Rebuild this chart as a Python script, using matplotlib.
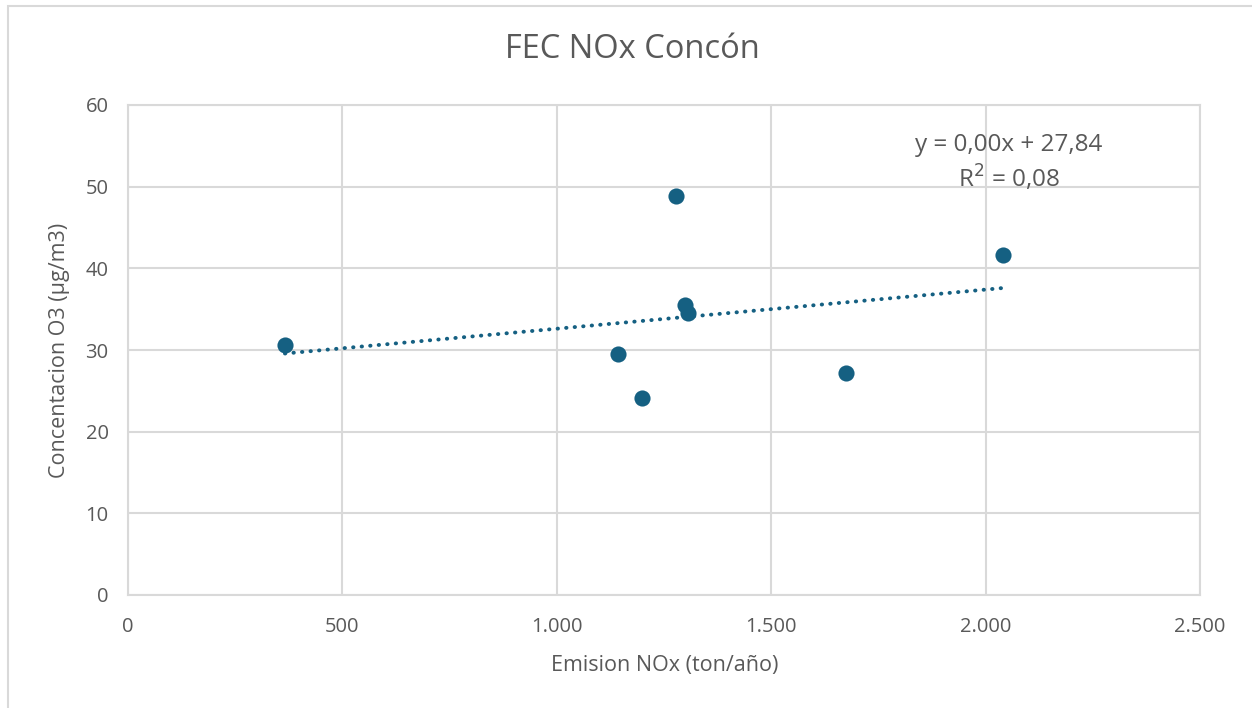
import numpy as np
import matplotlib
matplotlib.use("Agg")
import matplotlib.pyplot as plt
from matplotlib.patches import Rectangle
from matplotlib.ticker import FuncFormatter

plt.rcParams['font.family'] = ['Open Sans', 'DejaVu Sans']

# datos
emision_nox = [366, 1143, 1199, 1278, 1299, 1306, 1674, 2041]
conc_o3 = [30.6, 29.5, 24.1, 48.9, 35.5, 34.5, 27.2, 41.6]
x_ticks = [0, 500, 1000, 1500, 2000, 2500]
y_ticks = [0, 10, 20, 30, 40, 50, 60]

azul = '#156082'
gris_txt = '#595959'
gris_grid = '#d9d9d9'

fig = plt.figure(figsize=(12.52, 7.08), dpi=100)
fig.patches.append(Rectangle((8/1252, -0.01), 1.0, 1 - 6/708 + 0.01, transform=fig.transFigure,
                             fill=False, edgecolor=gris_grid, linewidth=1.5))
ax = fig.add_axes([128/1252, 1 - 595/708, 1072/1252, 490/708])

ax.scatter(emision_nox, conc_o3, s=135, color=azul, zorder=3, linewidths=0)

# linea de tendencia
m, b = np.polyfit(emision_nox, conc_o3, 1)
xs = np.array([min(emision_nox), max(emision_nox)])
ax.plot(xs, m * xs + b, linestyle=(0, (0.1, 2.1)), dash_capstyle='round', color=azul, linewidth=2.8, zorder=2)

ax.set_xlim(0, 2500)
ax.set_ylim(0, 60)
ax.set_xticks(x_ticks)
ax.set_yticks(y_ticks)
ax.xaxis.set_major_formatter(FuncFormatter(lambda v, p: f"{int(v):,}".replace(',', '.')))
ax.tick_params(length=0, labelsize=14.5, colors=gris_txt)
ax.tick_params(axis='x', pad=16)
ax.tick_params(axis='y', pad=14)
ax.grid(True, color=gris_grid, linewidth=1.5)
ax.set_axisbelow(True)
for s in ax.spines.values():
    s.set_color(gris_grid)
    s.set_linewidth(1.5)

fig.text(665/1252, 1 - 665/708, 'Emision NOx (ton/año)', fontsize=15.5, color=gris_txt, ha='center', va='center')
fig.text(60/1252, 1 - 350/708, 'Concentacion O3 (µg/m3)', fontsize=15.5, color=gris_txt,
         ha='center', va='center', rotation=90)
fig.text(632/1252, 1 - 50/708, 'FEC NOx Concón', fontsize=23.5, color=gris_txt, ha='center', va='center')

fig.text(1009/1252, 1 - 145/708, 'y = 0,00x + 27,84', fontsize=17.5, color=gris_txt, ha='center', va='center')
fig.text(1009/1252, 1 - 179/708, 'R$^2$ = 0,08', fontsize=17.5, color=gris_txt, ha='center', va='center')

fig.savefig('out.png', dpi=100)
